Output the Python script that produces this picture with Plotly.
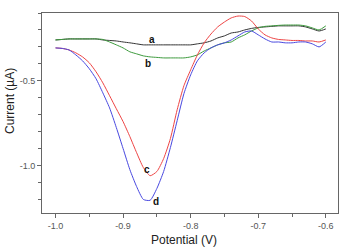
import plotly.graph_objects as go

potential = [-1.00, -0.99, -0.98, -0.97, -0.96, -0.95, -0.94, -0.93, -0.92, -0.91,
             -0.90, -0.89, -0.88, -0.87, -0.86, -0.85, -0.84, -0.83, -0.82, -0.81,
             -0.80, -0.79, -0.78, -0.77, -0.76, -0.75, -0.74, -0.73, -0.72, -0.71,
             -0.70, -0.69, -0.68, -0.67, -0.66, -0.65, -0.64, -0.63, -0.62, -0.61, -0.60]

curve_a = [-0.259, -0.256, -0.253, -0.253, -0.253, -0.253, -0.253, -0.259, -0.262, -0.265,
           -0.271, -0.276, -0.282, -0.288, -0.288, -0.288, -0.288, -0.288, -0.288, -0.288,
           -0.288, -0.282, -0.276, -0.265, -0.247, -0.235, -0.218, -0.212, -0.200, -0.191,
           -0.185, -0.182, -0.179, -0.176, -0.176, -0.176, -0.176, -0.182, -0.194, -0.206, -0.194]

curve_b = [-0.259, -0.256, -0.253, -0.253, -0.253, -0.253, -0.253, -0.256, -0.271, -0.288,
           -0.306, -0.329, -0.341, -0.353, -0.359, -0.362, -0.365, -0.365, -0.365, -0.365,
           -0.359, -0.347, -0.324, -0.306, -0.288, -0.276, -0.271, -0.247, -0.229, -0.206,
           -0.188, -0.179, -0.176, -0.173, -0.171, -0.171, -0.171, -0.176, -0.188, -0.200, -0.176]

curve_c = [-0.306, -0.309, -0.318, -0.335, -0.359, -0.394, -0.447, -0.512, -0.588, -0.665,
           -0.741, -0.829, -0.924, -1.012, -1.060, -1.035, -0.959, -0.841, -0.671, -0.529,
           -0.435, -0.347, -0.276, -0.224, -0.182, -0.153, -0.129, -0.118, -0.121, -0.147,
           -0.194, -0.229, -0.247, -0.256, -0.259, -0.262, -0.262, -0.265, -0.265, -0.271, -0.259]

curve_d = [-0.306, -0.309, -0.318, -0.347, -0.382, -0.429, -0.488, -0.571, -0.660, -0.776,
           -0.900, -1.024, -1.124, -1.200, -1.205, -1.135, -1.035, -0.894, -0.735, -0.576,
           -0.465, -0.382, -0.335, -0.306, -0.288, -0.276, -0.259, -0.235, -0.212, -0.206,
           -0.229, -0.253, -0.271, -0.271, -0.276, -0.276, -0.271, -0.271, -0.282, -0.300, -0.271]

series_names = ["a", "b", "c", "d"]
series_colors = ["#333333", "#3c9a3c", "#ee4444", "#4848e0"]
label_x = [-0.857, -0.863, -0.865, -0.851]
label_y = [-0.259, -0.400, -1.024, -1.212]

x_tickvals = [-1.0, -0.9, -0.8, -0.7, -0.6]
x_ticktext = ["-1.0", "-0.9", "-0.8", "-0.7", "-0.6"]
y_tickvals = [-0.5, -1.0]
y_ticktext = ["-0.5", "-1.0"]

fig = go.Figure()
for name, ys, col in zip(series_names, [curve_a, curve_b, curve_c, curve_d], series_colors):
    fig.add_trace(go.Scatter(x=potential, y=ys, mode="lines", name=name,
                             line=dict(color=col, width=1, shape="spline", smoothing=0.6)))

for name, lx, ly in zip(series_names, label_x, label_y):
    fig.add_annotation(x=lx, y=ly, text="<b>%s</b>" % name, showarrow=False,
                       font=dict(family="Liberation Sans, Arial", size=10, color="#111111"))

axis_common = dict(showline=True, linecolor="#666666", linewidth=1, mirror=True,
                   showgrid=False, zeroline=False, ticks="outside", ticklen=4,
                   tickcolor="#666666",
                   tickfont=dict(family="Liberation Sans, Arial", size=9, color="#555555"))

fig.update_xaxes(range=[-1.02, -0.582], tickvals=x_tickvals, ticktext=x_ticktext,
                 minor=dict(dtick=0.05, tick0=-1.0, ticks="outside", ticklen=3, tickcolor="#666666"),
                 **axis_common)
fig.update_yaxes(range=[-1.28, -0.1], tickvals=y_tickvals, ticktext=y_ticktext,
                 minor=dict(dtick=0.1, tick0=-1.0, ticks="outside", ticklen=3, tickcolor="#666666"),
                 **axis_common)

fig.add_annotation(xref="paper", yref="paper", x=0.48, y=-0.178, yanchor="bottom",
                   text="Potential (V)", showarrow=False,
                   font=dict(family="Liberation Sans, Arial", size=12, color="#222222"))
fig.add_annotation(xref="paper", yref="paper", x=-0.108, y=0.56, xanchor="center",
                   text="Current (µA)", textangle=-90, showarrow=False,
                   font=dict(family="Liberation Sans, Arial", size=12, color="#222222"))

fig.update_layout(width=343, height=250, margin=dict(l=42, r=5, t=13, b=37),
                  paper_bgcolor="white", plot_bgcolor="white", showlegend=False)

fig.write_html("out.html")
